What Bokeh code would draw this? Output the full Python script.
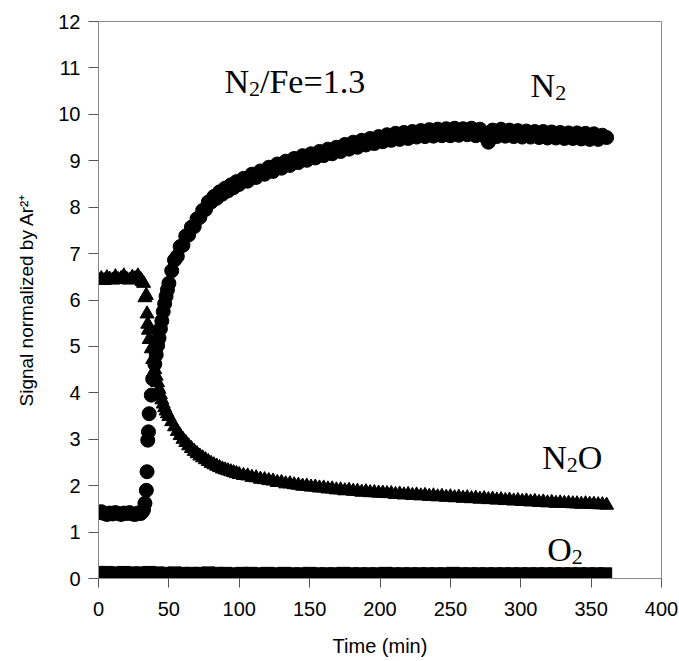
from bokeh.plotting import figure
from bokeh.models import Range1d, FixedTicker
from bokeh.embed import file_html
from bokeh.resources import INLINE
from bokeh.core.properties import value

# ---------------- data ----------------
time_min = [0, 2, 4, 6, 8, 10, 12, 14, 16, 18, 20, 22, 24, 26, 28, 30,
            31, 32, 33, 34, 34.5, 35, 35.5, 36, 37.5, 38.5, 40, 41, 42, 43, 44, 45, 46, 47, 48, 49, 50,
            52, 54, 56, 58, 60, 62, 64, 66, 68, 70, 72, 74, 76, 78, 80, 82, 84, 86, 88, 90, 92, 94, 96, 98, 100,
            103, 106, 109, 112, 115, 118, 121, 124, 127, 130, 133, 136, 139, 142, 145, 148, 151, 154, 157, 160,
            163, 166, 169, 172, 175, 178, 181, 184, 187, 190, 193, 196, 199, 202, 205, 208, 211, 214, 217, 220,
            223, 226, 229, 232, 235, 238, 241, 244, 247, 250, 253, 256, 259, 262, 265, 268, 271, 274, 277, 280,
            283, 286, 289, 292, 295, 298, 301, 304, 307, 310, 313, 316, 319, 322, 325, 328, 331, 334, 337, 340,
            343, 346, 349, 352, 355, 358, 361]

n2_signal = [1.42, 1.44, 1.40, 1.38, 1.41, 1.39, 1.42, 1.40, 1.38, 1.41, 1.40, 1.42, 1.39, 1.38, 1.41, 1.40,
             1.43, 1.48, 1.62, 1.90, 2.30, 2.98, 3.16, 3.55, 3.95, 4.30, 4.62, 4.82, 5.02, 5.18, 5.38, 5.55, 5.75, 5.92, 6.08, 6.22, 6.36,
             6.63, 6.86, 6.94, 7.15, 7.18, 7.38, 7.40, 7.57, 7.58, 7.75, 7.78, 7.93, 7.95, 8.11, 8.11, 8.23, 8.19, 8.33, 8.28, 8.41, 8.35, 8.48, 8.42, 8.55, 8.49,
             8.62, 8.56, 8.71, 8.64, 8.78, 8.71, 8.86, 8.77, 8.93, 8.84, 8.99, 8.90, 9.05, 8.96, 9.11, 9.01, 9.15, 9.06, 9.20, 9.11,
             9.25, 9.15, 9.29, 9.20, 9.35, 9.25, 9.40, 9.29, 9.44, 9.34, 9.48, 9.37, 9.52, 9.41, 9.56, 9.44, 9.59, 9.46, 9.61, 9.48,
             9.63, 9.51, 9.65, 9.52, 9.67, 9.53, 9.68, 9.54, 9.69, 9.54, 9.70, 9.55, 9.69, 9.56, 9.70, 9.54, 9.68, 9.53, 9.40, 9.66,
             9.52, 9.68, 9.53, 9.66, 9.52, 9.65, 9.51, 9.64, 9.51, 9.63, 9.50, 9.63, 9.49, 9.62, 9.49, 9.61, 9.48, 9.60, 9.48, 9.60,
             9.47, 9.59, 9.46, 9.58, 9.46, 9.55, 9.50]

n2o_signal = [6.44, 6.46, 6.42, 6.48, 6.45, 6.43, 6.50, 6.44, 6.46, 6.52, 6.45, 6.43, 6.49, 6.46, 6.52, 6.44,
              6.40, 6.36, 6.05, 6.10, 5.70, 5.48, 5.35, 5.15, 4.95, 4.72, 4.50, 4.36, 4.22, 4.08, 3.96, 3.85, 3.76, 3.68, 3.61, 3.55, 3.49,
              3.38, 3.27, 3.17, 3.08, 3.00, 2.93, 2.86, 2.80, 2.74, 2.69, 2.64, 2.60, 2.56, 2.52, 2.48, 2.45, 2.42, 2.39, 2.36, 2.34, 2.32, 2.30, 2.28, 2.26, 2.24,
              2.22, 2.21, 2.18, 2.17, 2.14, 2.13, 2.11, 2.10, 2.07, 2.07, 2.04, 2.04, 2.02, 2.01, 1.99, 1.99, 1.97, 1.97, 1.95, 1.95,
              1.93, 1.93, 1.91, 1.91, 1.89, 1.90, 1.88, 1.88, 1.86, 1.87, 1.85, 1.85, 1.84, 1.84, 1.83, 1.83, 1.81, 1.82, 1.80, 1.81,
              1.79, 1.80, 1.78, 1.79, 1.77, 1.78, 1.76, 1.77, 1.75, 1.76, 1.74, 1.75, 1.73, 1.74, 1.72, 1.73, 1.71, 1.72, 1.70, 1.71,
              1.69, 1.70, 1.68, 1.69, 1.67, 1.68, 1.66, 1.67, 1.65, 1.66, 1.64, 1.65, 1.63, 1.64, 1.62, 1.63, 1.62, 1.62, 1.61, 1.61,
              1.60, 1.61, 1.60, 1.60, 1.59, 1.59, 1.58]

o2_time = [0, 6, 12, 18, 24, 30, 36, 42, 48, 54, 60, 66, 72, 78, 84, 90, 96, 102, 108, 114, 120,
           126, 132, 138, 144, 150, 156, 162, 168, 174, 180, 186, 192, 198, 204, 210, 216, 222, 228, 234, 240,
           246, 252, 258, 264, 270, 276, 282, 288, 294, 300, 306, 312, 318, 324, 330, 336, 342, 348, 354, 360]
o2_signal = [0.12, 0.12, 0.11, 0.12, 0.11, 0.11, 0.12, 0.11, 0.10, 0.11, 0.10, 0.10, 0.10, 0.11, 0.10, 0.10, 0.09, 0.10, 0.10, 0.09, 0.10,
             0.09, 0.10, 0.09, 0.09, 0.10, 0.09, 0.09, 0.09, 0.10, 0.09, 0.09, 0.09, 0.09, 0.10, 0.09, 0.09, 0.09, 0.09, 0.09, 0.09,
             0.09, 0.10, 0.09, 0.09, 0.09, 0.09, 0.09, 0.09, 0.09, 0.09, 0.09, 0.09, 0.09, 0.09, 0.09, 0.09, 0.09, 0.09, 0.09, 0.09]

x_ticks = [0, 50, 100, 150, 200, 250, 300, 350, 400]
y_ticks = [0, 1, 2, 3, 4, 5, 6, 7, 8, 9, 10, 11, 12]

x_label = "Time (min)"
y_label = "Signal normalized by Ar\u00b2\u207a"

# annotation labels: (x, y of baseline, [(text, is_subscript), ...])
annotations = [
    (89.5, 10.70, [("N", False), ("2", True), ("/Fe=1.3", False)]),
    (307.0, 10.62, [("N", False), ("2", True)]),
    (315.2, 2.60, [("N", False), ("2", True), ("O", False)]),
    (318.8, 0.62, [("O", False), ("2", True)]),
]

# ---------------- figure ----------------
p = figure(width=679, height=661,
           x_range=Range1d(0, 400), y_range=Range1d(0, 12),
           output_backend="svg", toolbar_location=None,
           min_border_left=98, min_border_right=18,
           min_border_top=21, min_border_bottom=83)

p.background_fill_color = "white"
p.border_fill_color = "white"
p.outline_line_color = "#8a8a8a"
p.outline_line_width = 1
p.xgrid.visible = False
p.ygrid.visible = False

p.xaxis.ticker = FixedTicker(ticks=x_ticks)
p.yaxis.ticker = FixedTicker(ticks=y_ticks)
p.axis.minor_tick_line_color = None
p.axis.axis_line_color = "#8a8a8a"
p.axis.major_tick_line_color = "#555555"
p.axis.major_tick_in = 0
p.xaxis.major_tick_out = 9
p.yaxis.major_tick_out = 10
p.axis.major_label_text_font = "Liberation Sans"
p.axis.major_label_text_font_size = "20px"
p.axis.major_label_text_color = "black"
p.xaxis.major_label_standoff = 14
p.yaxis.major_label_standoff = 8

p.xaxis.axis_label = x_label
p.yaxis.axis_label = y_label
p.axis.axis_label_text_font = "Liberation Sans"
p.xaxis.axis_label_text_font_size = "20px"
p.yaxis.axis_label_text_font_size = "19px"
p.axis.axis_label_text_font_style = "normal"
p.axis.axis_label_text_color = "black"
p.xaxis.axis_label_standoff = 16
p.yaxis.axis_label_standoff = 18

# data marks
p.scatter(o2_time, o2_signal, marker="square", size=13, color="black")
p.scatter(time_min, n2o_signal, marker="triangle", size=14, color="black")
p.scatter(time_min, n2_signal, marker="circle", size=14, color="black")

# rich-text annotations (Times-like serif with subscripts)
widths = {"N": 0.722, "O": 0.722, "2": 0.5, "/": 0.278, "F": 0.556, "e": 0.444,
          "=": 0.564, "1": 0.5, ".": 0.25, "3": 0.5}
main_fs = 34
sub_fs = 22
serif = value("Liberation Serif")
for ax, ay, parts in annotations:
    dx = 0.0
    for txt, is_sub in parts:
        fs = sub_fs if is_sub else main_fs
        p.text(x=[ax], y=[ay], text=[txt], x_offset=dx, y_offset=(7 if is_sub else 0),
               text_font=serif, text_font_size=f"{fs}px",
               text_baseline="alphabetic", text_align="left", text_color="black")
        dx += sum(widths.get(c, 0.5) for c in txt) * fs

open("out.html", "w").write(file_html(p, INLINE))
